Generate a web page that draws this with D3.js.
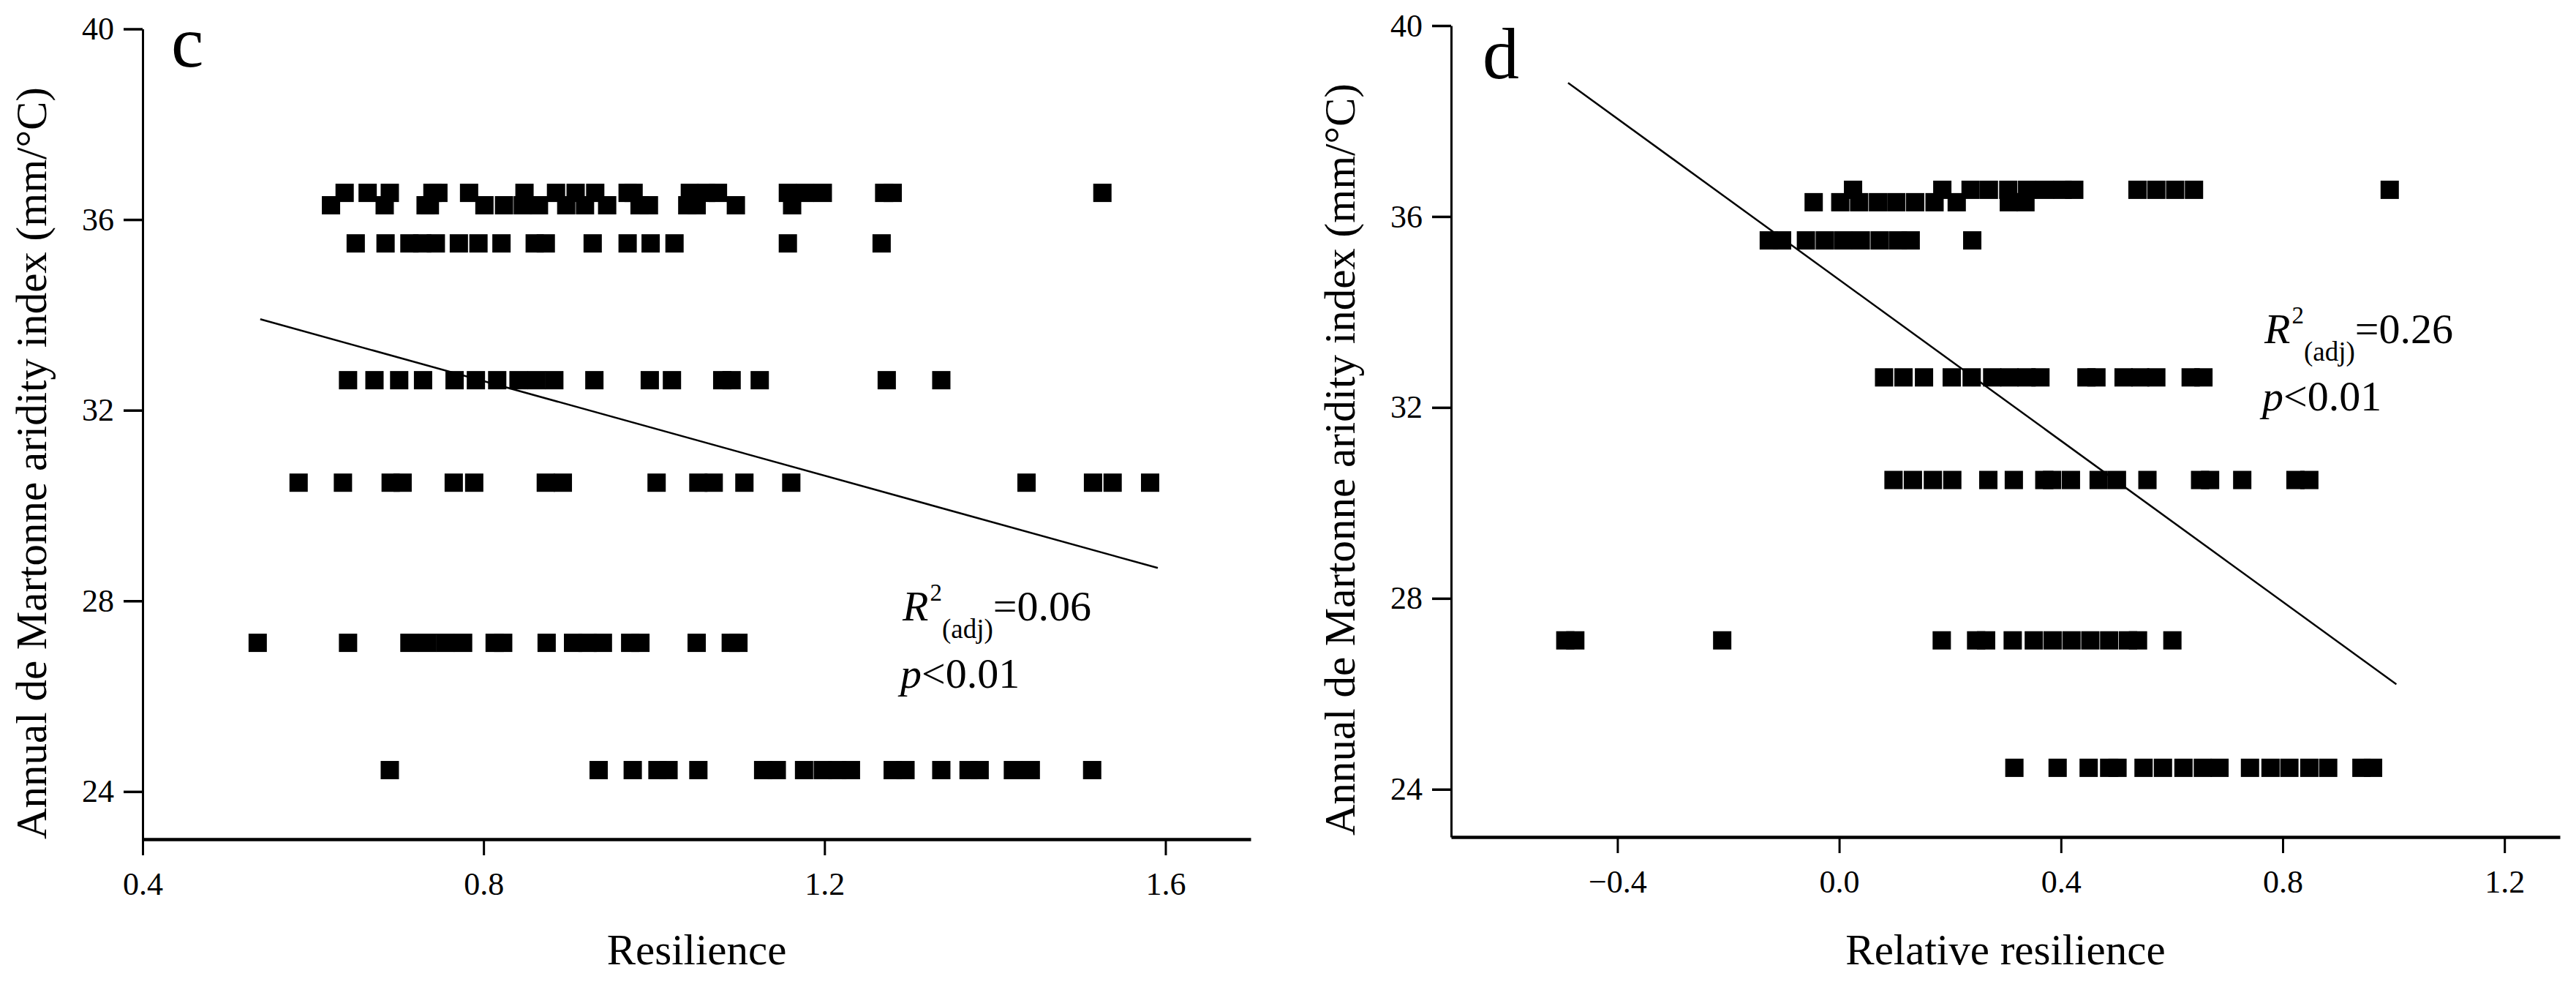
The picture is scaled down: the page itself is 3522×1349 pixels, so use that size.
<!DOCTYPE html>
<html>
<head>
<meta charset="utf-8">
<script src="https://cdn.jsdelivr.net/npm/d3@7"></script>
<style>
  body { margin: 0; background: #fff; }
  svg { display: block; background: #fff; font-family: "Liberation Serif", "Times New Roman", serif; }
</style>
</head>
<body>
<svg id="chart"></svg>
<script>
var width = 3522;
var height = 1349;

// aridity index of each site, one row of points per site
var aridityLevels = [36.56, 36.3, 35.5, 32.63, 30.48, 27.12, 24.45];

// resilience values, same order as aridityLevels
var resilience = [
  [0.637, 0.664, 0.690, 0.740, 0.747, 0.783, 0.848, 0.885, 0.908, 0.931, 0.969, 0.976, 1.042, 1.061, 1.075, 1.157, 1.177, 1.198, 1.270, 1.280, 1.526],
  [0.621, 0.684, 0.732, 0.737, 0.801, 0.824, 0.846, 0.865, 0.897, 0.919, 0.945, 0.983, 0.994, 1.039, 1.050, 1.096, 1.162],
  [0.650, 0.685, 0.713, 0.728, 0.744, 0.771, 0.794, 0.821, 0.860, 0.873, 0.928, 0.969, 0.996, 1.024, 1.157, 1.267],
  [0.641, 0.672, 0.701, 0.729, 0.766, 0.791, 0.816, 0.841, 0.862, 0.883, 0.930, 0.995, 1.021, 1.080, 1.091, 1.124, 1.273, 1.337],
  [0.583, 0.635, 0.691, 0.705, 0.765, 0.789, 0.873, 0.893, 1.003, 1.052, 1.070, 1.106, 1.161, 1.437, 1.515, 1.538, 1.582],
  [0.535, 0.641, 0.713, 0.734, 0.755, 0.776, 0.813, 0.823, 0.874, 0.905, 0.922, 0.940, 0.972, 0.984, 1.050, 1.090, 1.099],
  [0.690, 0.935, 0.975, 1.004, 1.017, 1.052, 1.128, 1.144, 1.176, 1.198, 1.215, 1.231, 1.280, 1.295, 1.337, 1.369, 1.382, 1.421, 1.442, 1.514]
];

// relative resilience values, same order as aridityLevels
var relResilience = [
  [0.025, 0.186, 0.237, 0.270, 0.305, 0.339, 0.371, 0.403, 0.424, 0.538, 0.572, 0.606, 0.640, 0.993],
  [-0.046, 0.002, 0.036, 0.070, 0.103, 0.137, 0.172, 0.212, 0.306, 0.336],
  [-0.127, -0.103, -0.060, -0.026, 0.007, 0.039, 0.073, 0.106, 0.129, 0.240],
  [0.081, 0.116, 0.153, 0.203, 0.239, 0.276, 0.307, 0.338, 0.363, 0.446, 0.464, 0.513, 0.543, 0.572, 0.634, 0.657],
  [0.098, 0.133, 0.169, 0.204, 0.269, 0.315, 0.370, 0.384, 0.418, 0.468, 0.501, 0.556, 0.651, 0.669, 0.727, 0.823, 0.848],
  [-0.494, -0.476, -0.211, 0.185, 0.247, 0.265, 0.313, 0.351, 0.385, 0.419, 0.453, 0.487, 0.521, 0.539, 0.601],
  [0.316, 0.394, 0.450, 0.487, 0.502, 0.549, 0.584, 0.621, 0.656, 0.686, 0.741, 0.778, 0.812, 0.848, 0.882, 0.942, 0.963]
];

// fitted regression lines, [x, y] at both ends
var fitResilience = [[0.538, 33.91], [1.591, 28.69]];
var fitRelResilience = [[-0.489, 38.8], [1.005, 26.2]];

// adjusted R2 and p
var statsResilience = ['0.06', '0.01'];
var statsRelResilience = ['0.26', '0.01'];

var yTickValues = [24, 28, 32, 36, 40];
var xTicksResilience = [0.4, 0.8, 1.2, 1.6];
var xTicksRelResilience = [-0.4, 0, 0.4, 0.8, 1.2];

var yTitle = 'Annual de Martonne aridity index (mm/\u00B0C)';

var panels = [{
  letter: 'c',
  xTitle: 'Resilience',
  rows: resilience,
  fit: fitResilience,
  stats: statsResilience,
  xDomain: [0.4, 1.7],
  xTicks: xTicksResilience,
  left: 195, right: 1710, top: 39.5, bottom: 1147,
  letterPos: [234, 91],
  statsPos: [1234, 848],
  yTitleCenter: 633
}, {
  letter: 'd',
  xTitle: 'Relative resilience',
  rows: relResilience,
  fit: fitRelResilience,
  stats: statsRelResilience,
  xDomain: [-0.7, 1.3],
  xTicks: xTicksRelResilience,
  left: 1984, right: 3500, top: 35, bottom: 1144,
  letterPos: [2027, 107],
  statsPos: [3096, 469],
  yTitleCenter: 628
}];

var markSize = 25;
var fmt = d3.format('.1f');

var svg = d3.select('#chart').attr('width', width).attr('height', height);

panels.forEach(function(p) {
  var g = svg.append('g');
  var x = d3.scaleLinear().domain(p.xDomain).range([p.left, p.right]);
  var y = d3.scaleLinear().domain([23, 40]).range([p.bottom, p.top]);

  // points
  var pts = [];
  p.rows.forEach(function(row, i) {
    row.forEach(function(v) {
      pts.push({ x: v, y: aridityLevels[i] });
    });
  });
  g.selectAll('.pt').data(pts).enter()
    .append('rect').classed('pt', true)
    .attr('x', function(d) { return x(d.x) - markSize / 2; })
    .attr('y', function(d) { return y(d.y) - markSize / 2; })
    .attr('width', markSize)
    .attr('height', markSize)
    .attr('fill', '#000');

  // regression line
  g.append('path')
    .datum(p.fit)
    .attr('d', d3.line().x(function(d) { return x(d[0]); }).y(function(d) { return y(d[1]); }))
    .attr('fill', 'none')
    .attr('stroke', '#000')
    .attr('stroke-width', 2.5);

  // y axis
  var gy = g.append('g')
    .attr('transform', 'translate(' + p.left + ',0)')
    .call(d3.axisLeft(y).tickValues(yTickValues).tickSize(26).tickPadding(13).tickSizeOuter(0));
  gy.attr('font-family', null).attr('font-size', 44);
  gy.select('.domain').attr('stroke-width', 3);
  gy.selectAll('.tick line').attr('stroke-width', 3.5);
  gy.selectAll('.tick text').attr('fill', '#000');

  // x axis
  var gx = g.append('g')
    .attr('transform', 'translate(0,' + p.bottom + ')')
    .call(d3.axisBottom(x).tickValues(p.xTicks).tickFormat(fmt).tickSize(22).tickSizeOuter(0));
  gx.attr('font-family', null).attr('font-size', 44);
  gx.select('.domain').attr('stroke-width', 4.5);
  gx.selectAll('.tick line').attr('stroke-width', 3);
  gx.selectAll('.tick text').attr('y', 76).attr('dy', 0).attr('fill', '#000');

  // axis titles
  g.append('text')
    .attr('x', (p.left + p.right) / 2)
    .attr('y', 1318)
    .attr('text-anchor', 'middle')
    .attr('font-size', 59)
    .text(p.xTitle);
  g.append('text')
    .attr('transform', 'translate(' + (p.left - 132) + ',' + p.yTitleCenter + ') rotate(-90)')
    .attr('text-anchor', 'middle')
    .attr('font-size', 59)
    .text(yTitle);

  // panel letter
  g.append('text')
    .attr('x', p.letterPos[0])
    .attr('y', p.letterPos[1])
    .attr('font-size', 100)
    .text(p.letter);

  // statistics
  var t = g.append('text')
    .attr('x', p.statsPos[0])
    .attr('y', p.statsPos[1])
    .attr('font-size', 58);
  t.append('tspan').attr('font-style', 'italic').text('R');
  t.append('tspan').attr('font-size', 33).attr('dy', -27).attr('dx', 2).text('2');
  t.append('tspan').attr('font-size', 37).attr('dy', 51).text('(adj)');
  t.append('tspan').attr('dy', -24).text('=' + p.stats[0]);
  var t2 = g.append('text')
    .attr('x', p.statsPos[0] - 3)
    .attr('y', p.statsPos[1] + 92)
    .attr('font-size', 58);
  t2.append('tspan').attr('font-style', 'italic').text('p');
  t2.append('tspan').text('<' + p.stats[1]);
});
</script>
</body>
</html>
